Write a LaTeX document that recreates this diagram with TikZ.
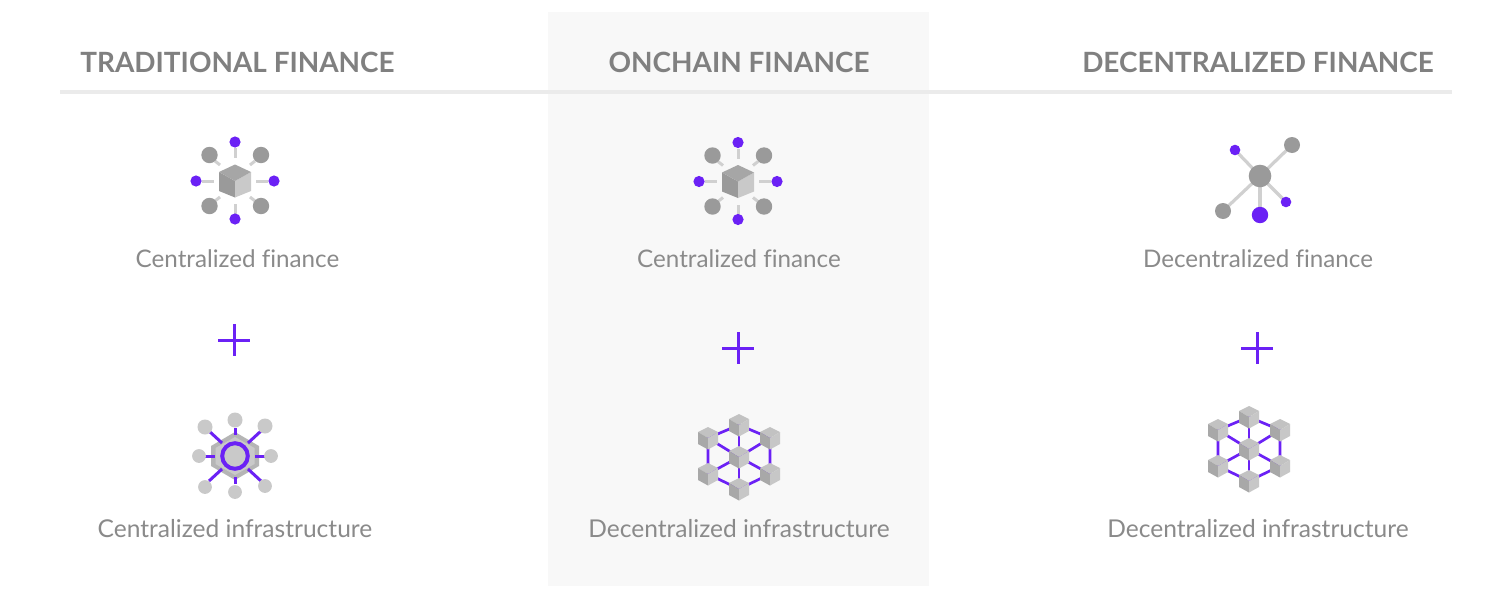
\documentclass[tikz,border=0pt]{standalone}
\usepackage{fontspec}
\setmainfont{Lato}
\definecolor{purp}{HTML}{6B21F5}
\definecolor{dotg}{HTML}{9A9A9A}
\definecolor{dotl}{HTML}{C9C9C9}
\definecolor{linkg}{HTML}{D0D0D0}
\definecolor{txt}{HTML}{808080}
\definecolor{captxt}{HTML}{8A8A8A}
\definecolor{panel}{HTML}{F8F8F8}
\definecolor{rulec}{HTML}{EBEBEB}
\tikzset{
  heading/.style={font=\fontsize{27.9}{30}\selectfont\bfseries,text=txt,anchor=base,inner sep=0pt},
  caption/.style={font=\addfontfeature{Ligatures=NoCommon}\fontsize{24.2}{26}\selectfont,text=captxt,anchor=base,inner sep=0pt},
  captionwide/.style={font=\addfontfeature{Ligatures=NoCommon}\fontsize{24.55}{26}\selectfont,text=captxt,anchor=base,inner sep=0pt},
  glink/.style={draw=linkg,line width=3pt},
  plink/.style={draw=purp,line width=2.7pt},
  bigcube/.pic={
    \fill[fill=dotg] (0,0) -- (-16,-9) -- (-16,10) -- (0,16.5) -- cycle;
    \fill[fill=dotl] (0,0) -- (16,-9) -- (16,10) -- (0,16.5) -- cycle;
    \fill[fill=black!35] (0,-16.5) -- (16,-9) -- (0,0) -- (-16,-9) -- cycle;
  },
  smallcube/.pic={
    \fill[fill=black!24] (0,-11) -- (10,-6) -- (0,0) -- (-10,-6) -- cycle;
    \fill[fill=black!34] (0,0) -- (-10,-6) -- (-10,6) -- (0,11.5) -- cycle;
    \fill[fill=black!22] (0,0) -- (10,-6) -- (10,6) -- (0,11.5) -- cycle;
  },
  hubicon/.pic={
    \foreach \a/\b/\c/\d in {0/-33/0/-23, 0/33/0/23, -33/0/-21/0, 33/0/21/0, -20/-20/-15/-16, 20/-20/15/-16, -20/20/-15/16, 20/20/15/16}
      \draw[glink] (\a,\b) -- (\c,\d);
    \foreach \a/\b in {0/-39,-39/0,39/0,0/38}
      \fill[purp] (\a,\b) circle (5.6);
    \foreach \a/\b in {-25.5/-26,26/-26,-25.5/25,26/25}
      \fill[dotg] (\a,\b) circle (8.2);
    \pic {bigcube};
  },
  meshicon/.pic={
    \foreach \a/\b in {0/-32,31/-19,31/17,0/32,-31/17,-31/-19}{
      \draw[plink] (0,0) -- (\a,\b);
    }
    \draw[plink] (0,-32) -- (31,-19) -- (31,17) -- (0,32) -- (-31,17) -- (-31,-19) -- cycle;
    \foreach \a/\b in {0/-32,-31/-19,31/-19,0/0,-31/17,31/17,0/32}
      \pic at (\a,\b) {smallcube};
  }
}
\begin{document}
\begin{tikzpicture}[x=1pt,y=-1pt]
\useasboundingbox (0,0) rectangle (1500,600);
\fill[white] (0,0) rectangle (1500,600);
\fill[fill=panel] (548,12) rectangle (929,586);
\draw[draw=rulec,line width=3.2pt] (60,92) -- (1452,92);

\node[heading] (h1) at (237.5,72) {TRADITIONAL FINANCE};
\node[heading] (h2) at (739,72) {ONCHAIN FINANCE};
\node[heading] (h3) at (1258,72) {DECENTRALIZED FINANCE};

\node[caption] (c1) at (237.5,267) {Centralized finance};
\node[caption] (c2) at (739,267) {Centralized finance};
\node[caption] (c3) at (1258,267) {Decentralized finance};
\node[captionwide] (d1) at (235,537) {Centralized infrastructure};
\node[captionwide] (d2) at (739,537) {Decentralized infrastructure};
\node[captionwide] (d3) at (1258,537) {Decentralized infrastructure};

\foreach \x/\y in {234/340,738/348,1257/348}
  \draw[purp,line width=3pt] (\x-16,\y) -- (\x+16,\y) (\x,\y-16) -- (\x,\y+16);

\pic at (235,181) {hubicon};
\pic at (738,181.5) {hubicon};

% centralized infrastructure
\begin{scope}[shift={(235,456)}]
  \fill[fill=black!29] (0,-24) -- (24,-10) -- (24,10) -- (0,24) -- (-24,10) -- (-24,-10) -- cycle;
  \fill[fill=dotl] (0,-19) -- (19.5,-8) -- (19.5,8) -- (0,19) -- (-19.5,8) -- (-19.5,-8) -- cycle;
  \foreach \a/\b/\c/\d in {0/-28/0/-21, 0/28/0/21, -30/0/-20/0, 30/0/20/0, -26/-25/-13/-13, 26/-25/13/-13, -26/25/-13/13, 26/25/13/13}
    \draw[plink,line width=3pt] (\a,\b) -- (\c,\d);
  \foreach \a/\b/\r in {0/-36/7.5,-30/-29/7.5,30/-30/7.5,-36/0/6.9,36/0/6.9,-30/31/6.9,30/30/6.9,0/36/6.9}
    \fill[dotl] (\a,\b) circle (\r);
  \draw[purp,fill=dotl,line width=4pt] (0,0) circle (12.8);
\end{scope}

\pic at (739,457) {meshicon};
\pic at (1249,449) {meshicon};

% decentralized finance
\begin{scope}[shift={(1260,176)}]
  \foreach \a/\b in {32/-31,-25/-26,26/26,0/39,-37/35}
    \draw[glink,line width=3.2pt] (0,0) -- (\a,\b);
  \fill[dotg] (0,0) circle (11.3);
  \fill[dotg] (32,-31) circle (8);
  \fill[dotg] (-37,35) circle (8);
  \fill[purp] (-25,-26) circle (5.3);
  \fill[purp] (26,26) circle (5.3);
  \fill[purp] (0,39) circle (8.2);
\end{scope}
\end{tikzpicture}
\end{document}
